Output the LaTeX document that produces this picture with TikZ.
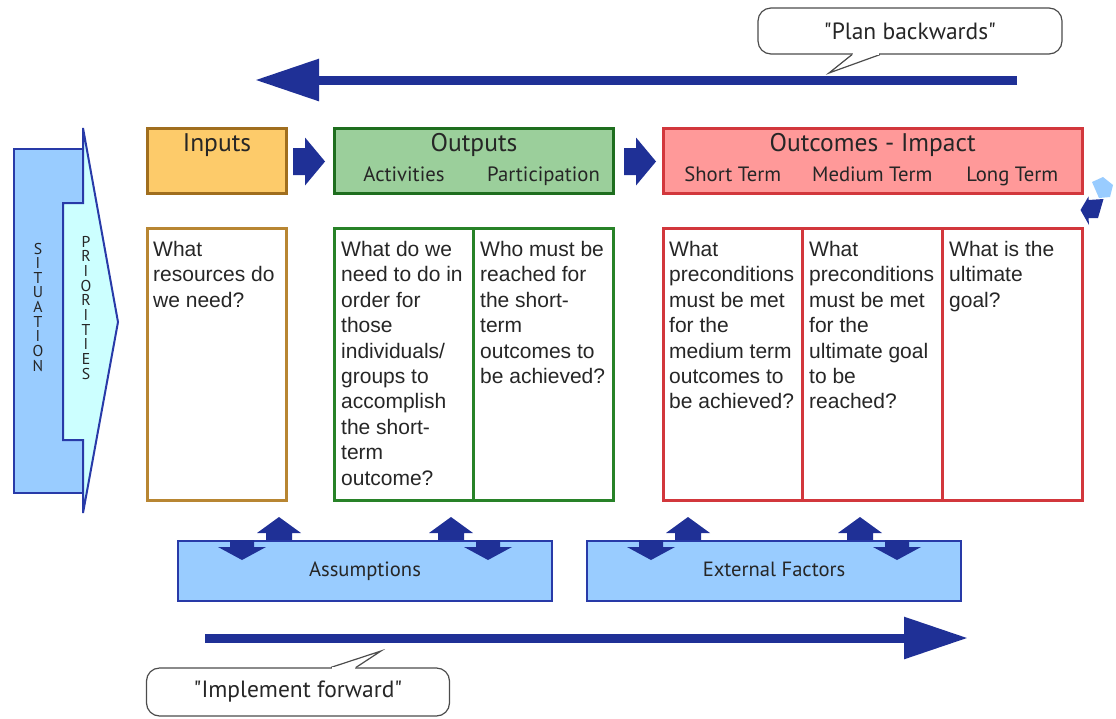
\documentclass[tikz,border=0pt]{standalone}
\usepackage{fontspec}
\setmainfont{Liberation Sans}
\newfontfamily\labelfont{PT Sans}
\usepackage{tikz}
\usetikzlibrary{positioning,calc,arrows.meta}
\definecolor{modelnavy}{RGB}{31,48,150}
\definecolor{modelline}{RGB}{40,58,168}
\definecolor{skyfill}{RGB}{153,204,255}
\definecolor{icefill}{RGB}{204,255,255}
\definecolor{inputfill}{RGB}{253,203,106}
\definecolor{inputline}{RGB}{160,110,30}
\definecolor{inputbody}{RGB}{184,134,50}
\definecolor{outputfill}{RGB}{155,207,155}
\definecolor{outputline}{RGB}{30,110,30}
\definecolor{outputbody}{RGB}{40,130,40}
\definecolor{outcomefill}{RGB}{255,153,153}
\definecolor{outcomeline}{RGB}{210,55,60}
\definecolor{inktext}{RGB}{38,38,38}
\tikzset{
	logic model/.style={
		x=1pt,y=-1pt, % pixel grid, y downwards
		every node/.style={text=inktext}
	},
	header/.style={
		rectangle,
		draw,
		line width=3pt,
		anchor=north west,
		inner sep=0pt,
		minimum height=65pt
	},
	column/.style={
		rectangle,
		draw,
		fill=white,
		line width=2.5pt,
		anchor=north west,
		inner sep=0pt,
		minimum width=139pt,
		minimum height=272pt
	},
	question/.style={
		anchor=north west,
		align=left,
		inner sep=0pt,
		font=\fontsize{21}{25.4}\selectfont
	},
	title/.style={
		anchor=base,
		inner sep=0pt,
		font=\labelfont\fontsize{25.5}{28}\selectfont
	},
	subtitle/.style={
		anchor=base,
		inner sep=0pt,
		font=\labelfont\fontsize{20.7}{24}\selectfont
	}
}
\tikzset{
	factor/.style={
		rectangle,
		draw=modelline,
		fill=skyfill,
		line width=2pt,
		anchor=north west,
		minimum width=374pt,
		minimum height=60pt,
		text height=11pt,
		text depth=0pt,
		font=\labelfont\fontsize{20.6}{24}\selectfont
	},
	bubble/.style={
		rectangle,
		rounded corners=13pt,
		draw=black!70,
		fill=white,
		line width=1.2pt,
		font=\labelfont\fontsize{23.5}{26}\selectfont
	},
	letter/.style={
		anchor=base,
		inner sep=0pt,
		font=\labelfont\fontsize{15.7}{16}\selectfont
	},
	long arrow/.style={
		draw=modelnavy,
		line width=9pt,
		-{Triangle[length=64pt,width=40pt]}
	},
	pics/block arrow/.style={code={
		\fill[modelnavy] (0,-13.5) -- (12,-13.5) -- (12,-24) -- (32,0) -- (12,24) -- (12,13.5) -- (0,13.5) -- cycle;
	}},
	pics/up arrow/.style={code={
		\fill[modelnavy] (-13,0) -- (-13,-7) -- (-22,-7) -- (0,-23) -- (22,-7) -- (13,-7) -- (13,0) -- cycle;
	}},
	pics/down arrow/.style={code={
		\fill[modelnavy] (-12,0) -- (-12,7) -- (-24,7) -- (0,20) -- (24,7) -- (12,7) -- (12,0) -- cycle;
	}}
}
\begin{document}
\begin{tikzpicture}[logic model]
	\useasboundingbox (0,0) rectangle (1116,718);
	% situation and priorities
	\draw[line width=2pt, draw=modelline, fill=skyfill] (14,149) -- (83,149) -- (83,203) -- (63,203) -- (63,440) -- (83,440) -- (83,493) -- (14,493) -- cycle;
	\draw[line width=2pt, draw=modelline, fill=icefill, line join=miter] (63,203) -- (83,203) -- (83,128) -- (118,322) -- (83,513) -- (83,440) -- (63,440) -- cycle;
	\foreach \ch [count=\i] in {S,I,T,U,A,T,I,O,N}
		\node[letter] (situation\i) at (38,{243+11+(\i-1)*14.65}) {\ch};
	\foreach \ch [count=\i] in {P,R,I,O,R,I,T,I,E,S}
		\node[letter] (priorities\i) at (86,{236+11+(\i-1)*14.7}) {\ch};
	% headers
	\node[header, draw=inputline, fill=inputfill, minimum width=139pt] (inhead) at (146,127) {};
	\node[header, draw=outputline, fill=outputfill, minimum width=279pt] (outhead) at (333,127) {};
	\node[header, draw=outcomeline, fill=outcomefill, line width=2.5pt, minimum width=419pt] (outcomehead) at (662,127) {};
	\node[title] (intitle) at ($(inhead.north)+(0,24)$) {Inputs};
	\node[title] (outtitle) at ($(outhead.north)+(0,24)$) {Outputs};
	\node[title] (outcometitle) at ($(outcomehead.north)+(0,24)$) {Outcomes - Impact};
	\pic at (293,161.5) {block arrow};
	\pic at (624,161.5) {block arrow};
	% columns
	\node[column, draw=inputbody] (incol) at (146,227) {};
	\node[column, draw=outputbody, line width=3pt] (actcol) at (333,227) {};
	\node[column, draw=outputbody, line width=3pt, minimum width=140pt] (partcol) at (472,227) {};
	\node[column, draw=outcomeline] (shortcol) at (662,227) {};
	\node[column, draw=outcomeline, minimum width=140pt] (medcol) at (801,227) {};
	\node[column, draw=outcomeline, minimum width=140pt] (longcol) at (941,227) {};
	\node[subtitle] (acttitle) at ($(actcol.north)+(0,-46)$) {Activities};
	\node[subtitle] (parttitle) at ($(partcol.north)+(0,-46)$) {Participation};
	\node[subtitle] (shorttitle) at ($(shortcol.north)+(0,-46)$) {Short Term};
	\node[subtitle] (medtitle) at ($(medcol.north)+(0,-46)$) {Medium Term};
	\node[subtitle] (longtitle) at ($(longcol.north)+(0,-46)$) {Long Term};
	\node[question] (inq) at ($(incol.north west)+(7,14)$) {What\\resources do\\we need?};
	\node[question] (actq) at ($(actcol.north west)+(8,14)$) {What do we\\need to do in\\order for\\those\\individuals/\\groups to\\accomplish\\the short-\\term\\outcome?};
	\node[question] (partq) at ($(partcol.north west)+(8,14)$) {Who must be\\reached for\\the short-\\term\\outcomes to\\be achieved?};
	\node[question] (shortq) at ($(shortcol.north west)+(7,14)$) {What\\preconditions\\must be met\\for the\\medium term\\outcomes to\\be achieved?};
	\node[question] (medq) at ($(medcol.north west)+(8,14)$) {What\\preconditions\\must be met\\for the\\ultimate goal\\to be\\reached?};
	\node[question] (longq) at ($(longcol.north west)+(8,14)$) {What is the\\ultimate\\goal?};
	% feedback loop
	\fill[skyfill] (1092,182) -- (1103,177) -- (1113,185) -- (1110,197) -- (1099,198) -- cycle;
	\fill[modelnavy] (1080.5,210) -- (1088.5,196.5) -- (1088.5,200) -- (1103.5,199) -- (1098,218) -- (1088.5,218) -- (1089,225) -- cycle;
	% assumptions and external factors
	\node[factor] (assumptions) at (177,540) {Assumptions};
	\node[factor] (external) at (586,540) {External Factors};
	\foreach \factorbox in {assumptions,external} {
		\pic at ($(\factorbox.north west)+(65,0)$) {down arrow};
		\pic at ($(\factorbox.north west)+(102,0)$) {up arrow};
		\pic at ($(\factorbox.north west)+(274,0)$) {up arrow};
		\pic at ($(\factorbox.north west)+(311,0)$) {down arrow};
	}
	% plan backwards
	\coordinate (planstart) at (1017,80);
	\coordinate (planend) at (255,80);
	\draw[long arrow] (planstart) -- (planend);
	\node[bubble, minimum width=304pt, minimum height=46pt] (planbubble) at (910,31) {"Plan backwards"};
	\coordinate (plantip) at (829,73);
	\draw[line width=1.2pt, draw=black!70, fill=white, line join=miter] ([xshift=-58pt]planbubble.south) -- (plantip) -- ([xshift=-30pt]planbubble.south);
	\draw[white, line width=2pt] ([xshift=-57pt,yshift=0.8pt]planbubble.south) -- ([xshift=-31pt,yshift=0.8pt]planbubble.south);
	% implement forward
	\coordinate (implstart) at (205,638);
	\coordinate (implend) at (968,638);
	\draw[long arrow] (implstart) -- (implend);
	\node[bubble, minimum width=303pt, minimum height=48pt] (implbubble) at (298,692) {"Implement forward"};
	\coordinate (impltip) at (381,651);
	\draw[line width=1.2pt, draw=black!70, fill=white, line join=miter] ([xshift=33pt]implbubble.north) -- (impltip) -- ([xshift=58pt]implbubble.north);
	\draw[white, line width=2pt] ([xshift=34pt,yshift=-0.8pt]implbubble.north) -- ([xshift=57pt,yshift=-0.8pt]implbubble.north);
\end{tikzpicture}
\end{document}
